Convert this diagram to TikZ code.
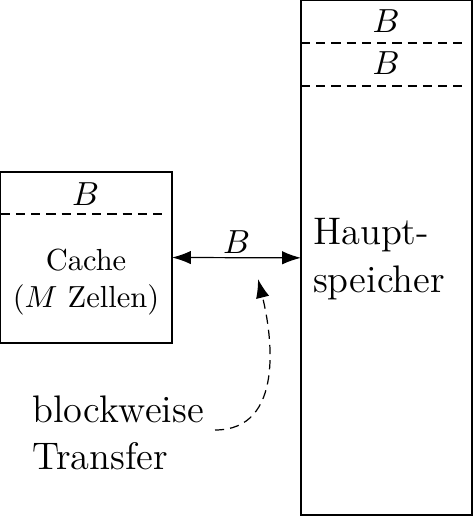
\documentclass[tikz,border=0pt]{standalone}
\usetikzlibrary{arrows.meta}
\begin{document}
\begin{tikzpicture}[x=0.328pt,y=-0.328pt,
  box/.style={draw, outer sep=0pt, inner sep=0pt},
  divider/.style={dash pattern=on 3pt off 2pt},
  lbl/.style={inner sep=0pt, anchor=base, font=\fontsize{10.95}{13.6}\selectfont},
  big/.style={font=\fontsize{12.6}{15.5}\selectfont, align=left, inner sep=0pt, anchor=west},
  tipend/.style={-{Latex[length=6.2pt,width=4.4pt]}},
  tipboth/.style={{Latex[length=6.2pt,width=4.4pt]}-{Latex[length=6.2pt,width=4.4pt]}}
]
\useasboundingbox (0,0) rectangle (474,517);
\node[box, minimum width=56.2pt, minimum height=56.1pt] (cache) at (86.35,257.5) {};
\node[box, minimum width=56.1pt, minimum height=168.7pt] (haupt) at (386.5,257.85) {};
\draw[divider] (0.7,214) -- (165,214);
\draw[divider] (301,43) -- (462,43);
\draw[divider] (301,86) -- (462,86);
\node[lbl] (bc) at (85.5,205.5) {$B$};
\node[lbl] (b1) at (386,33) {$B$};
\node[lbl] (b2) at (386,75) {$B$};
\node[align=center, inner sep=0pt] (ctext) at (86,282) {Cache\\($M$ Zellen)};
\node[big] (htext) at (312.5,259) {Haupt-\\speicher};
\node[big] (btext) at (31.5,433) {blockweise\\Transfer};
\draw[tipboth] (cache.east) -- node[above, inner sep=1.2pt, font=\fontsize{10.95}{13.6}\selectfont] (bt) {$B$} (haupt.west);
\coordinate (cs) at (215,430);
\coordinate (ce) at (258,279);
\draw[divider, tipend] (cs) .. controls (285,430) and (272,335) .. (ce);
\end{tikzpicture}
\end{document}
